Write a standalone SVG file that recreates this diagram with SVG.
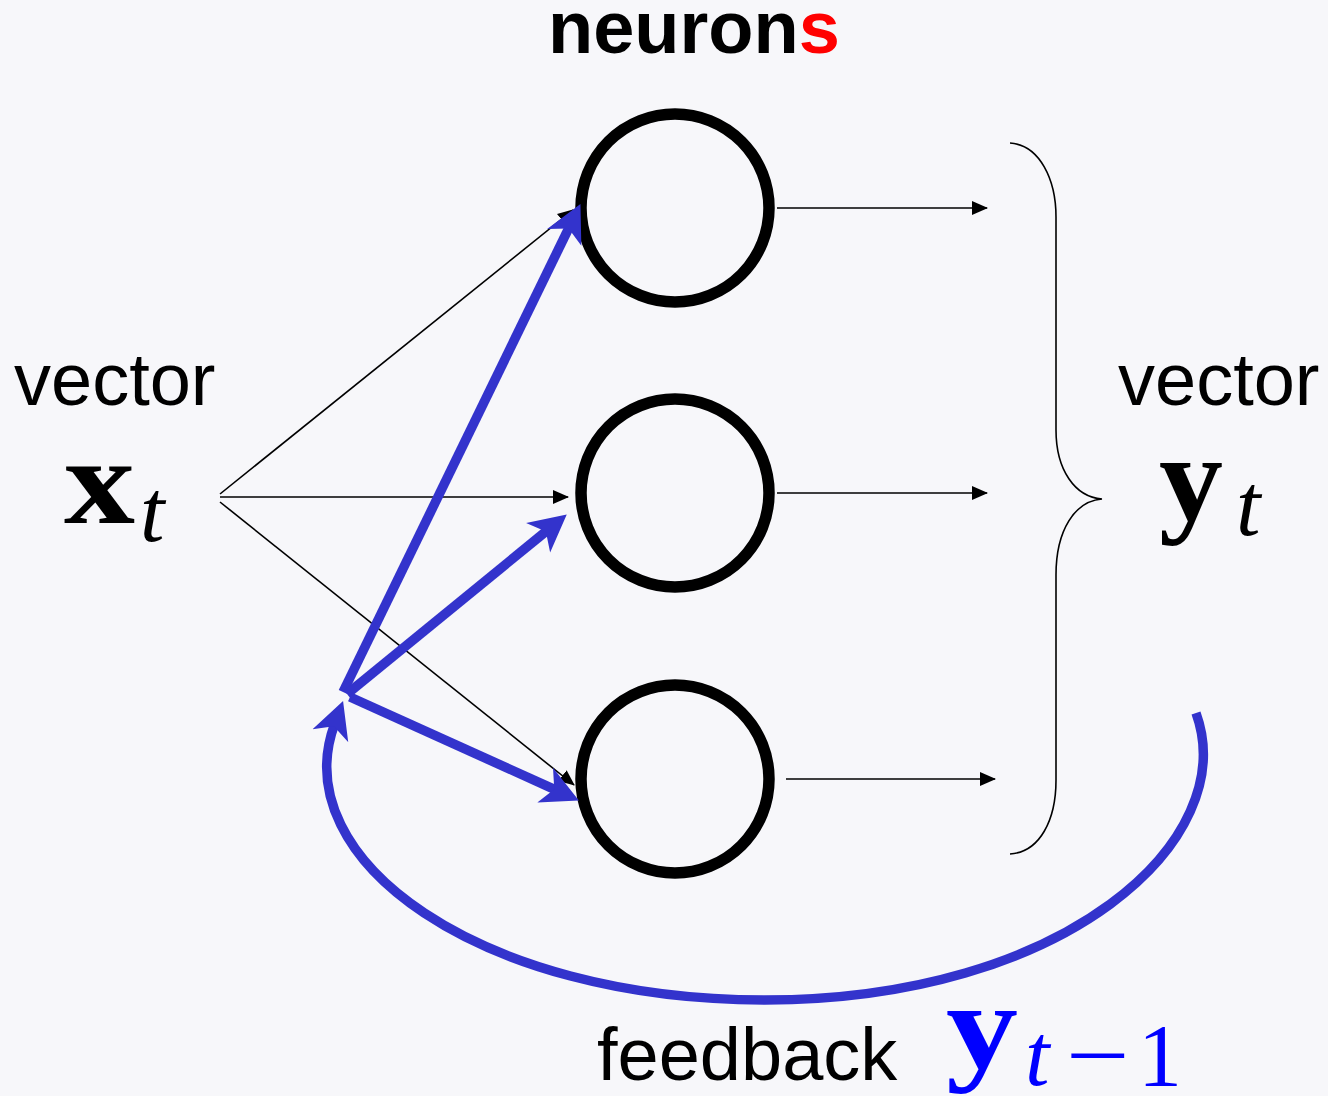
<svg xmlns="http://www.w3.org/2000/svg" width="1328" height="1096" viewBox="0 0 1328 1096">
<defs>
<style>
.sans{font-family:"Liberation Sans",Arial,sans-serif;fill:#000}
.serif{font-family:"Liberation Serif","Times New Roman",serif}
.thin{fill:none;stroke:#000;stroke-width:1.6}
.blue{fill:none;stroke:#3333cc;stroke-width:9.5}
.neuron{fill:none;stroke:#000;stroke-width:11.5}
</style>
<marker id="ah" markerUnits="userSpaceOnUse" markerWidth="18" markerHeight="16" viewBox="0 0 18 16" refX="15" refY="8" orient="auto">
<path d="M0,1 L16,8 L0,15 Z" fill="#000"/>
</marker>
<marker id="bh" markerUnits="userSpaceOnUse" markerWidth="40" markerHeight="40" viewBox="0 0 40 40" refX="12" refY="20" orient="auto">
<path d="M37,20 L0,1 L10,20 L0,39 Z" fill="#3333cc"/>
</marker>
</defs>
<rect width="1328" height="1096" fill="#f7f7fa"/>
<text class="sans" x="548" y="53" font-size="74" font-weight="bold">neuron<tspan fill="#ff0000">s</tspan></text>
<g id="input-label">
<text class="sans" x="14" y="405" font-size="74">vector</text>
<text class="serif" x="64" y="523" font-size="122" font-weight="bold" textLength="71" lengthAdjust="spacingAndGlyphs">x</text>
<text class="serif" x="140" y="541" font-size="88" font-style="italic">t</text>
</g>
<g id="output-label">
<text class="sans" x="1118" y="405" font-size="74">vector</text>
<text class="serif" x="1159" y="520" font-size="122" font-weight="bold" textLength="64" lengthAdjust="spacingAndGlyphs">y</text>
<text class="serif" x="1236" y="535" font-size="88" font-style="italic">t</text>
</g>
<g id="neuron1"><circle class="neuron" cx="675" cy="208" r="94"/></g>
<g id="neuron2"><circle class="neuron" cx="675" cy="493" r="94"/></g>
<g id="neuron3"><circle class="neuron" cx="675" cy="779" r="94"/></g>
<g id="brace">
<path class="thin" d="M1010,143 C1040,145 1056,180 1056,217 L1056,430 C1056,470 1075,497 1102,499 C1075,501 1056,530 1056,575 L1056,780 C1056,820 1040,852 1010,854"/>
</g>
<g id="connectors">
<path class="thin" d="M220,494 L573,210" marker-end="url(#ah)"/>
<path class="thin" d="M220,497 L568,497" marker-end="url(#ah)"/>
<path class="thin" d="M220,502 L574,785" marker-end="url(#ah)"/>
<path class="thin" d="M777,208 L987,208" marker-end="url(#ah)"/>
<path class="thin" d="M777,493 L987,493" marker-end="url(#ah)"/>
<path class="thin" d="M786,779 L995,779" marker-end="url(#ah)"/>
<path class="blue" d="M343,692 L569.5,226.6" marker-end="url(#bh)"/>
<path class="blue" d="M347,694 L547.4,530.2" marker-end="url(#bh)"/>
<path class="blue" d="M350,697 L556.1,790.1" marker-end="url(#bh)"/>
<path class="blue" d="M1196,713 C1242,840 1065,1000 765,1000 C480,1000 285,860 334.5,724.4" marker-end="url(#bh)"/>
</g>
<g id="feedback-label">
<text class="sans" x="597" y="1080" font-size="74">feedback</text>
<text class="serif" x="946" y="1068" font-size="122" font-weight="bold" fill="#0000ff" textLength="72" lengthAdjust="spacingAndGlyphs">y</text>
<text class="serif" x="1025" y="1085" font-size="88" font-style="italic" fill="#0000ff">t</text>
<text class="serif" x="1066" y="1085" font-size="88" fill="#0000ff" textLength="64" lengthAdjust="spacingAndGlyphs">−</text>
<text class="serif" x="1138" y="1085" font-size="88" fill="#0000ff">1</text>
</g>
</svg>
